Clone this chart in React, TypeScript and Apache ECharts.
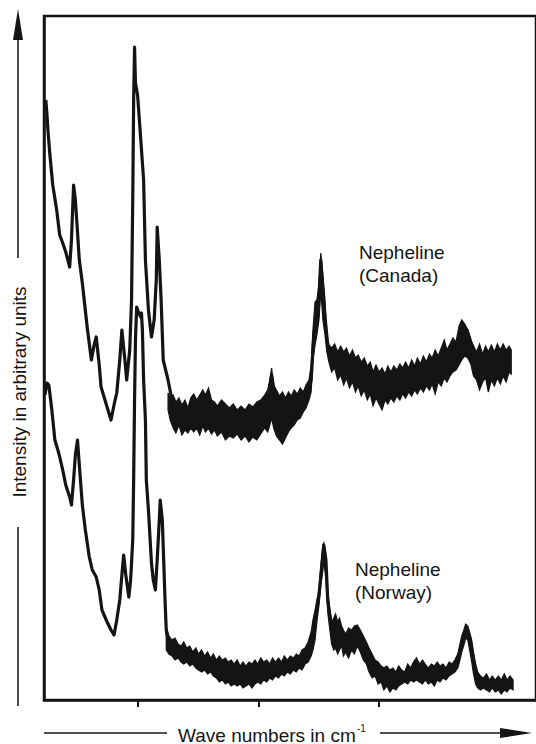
import React, { useEffect, useRef } from "react";
import * as echarts from "echarts";

// Bottom-axis tick positions (cm^-1); the axis itself carries no numbers
const tickWavenumbers = [400, 800, 1200];

// Nepheline (Canada) - trace centre line
const canadaWn = [96,100,103,109,119,132,142,152,162,175,181,188,194,207,217,233,247,256,263,273,279,299,312,322,331,341,348,358,364,374,380,384,387,390,393,400,406,420,426,436,446,455,462,465,472,478,485,501,514,534,567,599,632,664,707,762,805,828,844,860,893,936,964,975,984,998,1007,1017,1030,1047,1089,1132,1178,1242,1308,1373,1416,1448,1471,1491,1507,1536,1569,1601,1634];
const canadaInt = [600,585,570,547,515,490,465,457,448,433,460,515,500,440,417,373,340,355,363,335,313,293,280,295,307,340,370,340,320,350,400,500,600,653,617,605,580,520,440,390,363,380,420,473,440,400,340,320,300,285,282,287,290,282,280,280,282,290,325,295,287,290,305,320,365,385,440,395,355,340,335,325,312,315,322,328,338,345,365,370,355,335,332,338,342];

// Nepheline (Canada) - noise envelope of the baseline: [wavenumber, low, high]
const canadaNoiseBand = [
  [501,290,307],[508,280,302],[518,272,305],[527,267,298],[537,275,302],[547,265,295],[557,270,300],[567,267,292],[576,272,302],[586,268,306],
  [596,272,300],[606,265,305],[616,274,310],[625,268,305],[635,272,312],[645,266,300],[655,270,298],[664,264,294],[678,268,300],[691,260,296],
  [704,264,292],[717,262,296],[730,266,290],[743,260,294],[756,264,290],[769,258,296],[782,263,293],[795,260,298],[808,266,300],[821,272,305],
  [831,268,310],[838,275,320],[844,282,332],[851,272,315],[860,264,310],[870,260,304],[880,256,308],[890,262,302],[900,268,308],[909,272,304],
  [919,275,310],[929,280,306],[939,282,312],[949,288,308],[958,292,315],[968,300,320],[975,308,335],[981,340,370],[988,355,398],[994,365,400],
  [1001,380,415],[1007,410,447],[1014,380,425],[1021,365,400],[1027,348,365],[1034,338,355],[1043,328,352],[1053,332,356],[1063,320,348],[1073,325,354],
  [1083,315,348],[1092,322,352],[1102,312,344],[1112,318,350],[1122,308,342],[1131,314,345],[1141,304,338],[1151,310,342],[1161,300,334],[1171,306,338],
  [1180,294,328],[1190,302,335],[1200,296,328],[1210,290,332],[1220,300,326],[1229,296,334],[1239,302,328],[1249,298,334],[1259,304,330],[1269,300,336],
  [1278,306,332],[1288,302,338],[1298,308,332],[1308,304,340],[1318,310,334],[1327,306,342],[1337,312,336],[1347,308,344],[1357,314,338],[1367,310,346],
  [1376,316,342],[1386,306,350],[1396,318,344],[1406,314,352],[1416,322,360],[1425,318,350],[1435,324,356],[1445,328,362],[1455,330,358],[1465,335,374],
  [1474,340,380],[1484,344,376],[1494,342,370],[1504,336,360],[1513,324,354],[1523,320,348],[1533,310,356],[1543,318,346],[1553,322,354],[1562,308,348],
  [1572,320,355],[1582,314,348],[1592,322,356],[1602,316,350],[1611,324,356],[1621,318,350],[1631,328,354],[1638,326,350],
];

// Nepheline (Norway) - trace centre line
const norwayWn = [93,100,106,116,126,136,142,152,162,175,181,188,194,201,207,217,227,240,250,263,273,282,299,312,322,331,341,348,354,361,371,377,384,387,390,393,397,403,410,413,416,420,426,429,436,446,452,459,465,472,475,482,485,491,495,501,511,534,567,599,642,697,805,916,958,980,984,994,1001,1011,1017,1024,1030,1040,1047,1066,1089,1108,1128,1145,1161,1178,1210,1242,1285,1327,1373,1416,1448,1464,1481,1491,1500,1507,1517,1523,1546,1569,1611,1644];
const norwayInt = [305,317,315,290,260,250,243,230,215,203,195,220,245,260,235,195,170,143,130,123,110,90,78,70,65,80,100,125,145,125,103,120,160,220,300,360,393,388,383,387,370,320,280,220,190,137,120,110,140,180,200,180,153,100,70,60,53,48,43,38,33,27,27,33,43,60,75,90,105,135,155,140,100,78,67,70,57,60,67,57,45,33,25,20,23,33,27,27,32,45,63,70,62,50,33,22,18,17,16,17];

// Nepheline (Norway) - noise envelope of the baseline: [wavenumber, low, high]
const norwayNoiseBand = [
  [495,50,73],[504,46,64],[514,44,60],[524,40,62],[534,42,56],[544,38,54],[553,36,58],[563,38,52],[573,34,54],[583,36,48],
  [593,32,52],[602,30,46],[612,28,50],[622,30,44],[632,26,48],[642,28,42],[651,24,46],[661,22,40],[671,18,44],[681,20,40],
  [691,16,42],[700,18,38],[710,14,40],[720,16,36],[730,14,40],[740,16,34],[749,12,38],[759,14,34],[769,16,38],[779,12,36],
  [789,16,40],[798,18,36],[808,16,42],[818,20,38],[828,18,40],[838,22,36],[847,20,42],[857,24,38],[867,22,42],[877,26,38],
  [886,24,44],[896,28,40],[906,26,44],[916,30,42],[926,28,46],[935,32,44],[945,30,50],[955,36,52],[965,38,58],[975,44,68],
  [981,50,80],[988,60,90],[994,78,100],[1001,95,110],[1007,115,135],[1014,130,155],[1017,140,157],[1024,120,145],[1030,88,110],[1037,70,90],
  [1043,56,78],[1050,50,82],[1056,52,86],[1063,46,78],[1069,50,82],[1076,54,74],[1082,44,70],[1089,48,66],[1099,42,72],[1109,50,70],
  [1118,46,74],[1128,54,75],[1138,48,70],[1148,40,64],[1158,36,58],[1167,28,52],[1177,22,46],[1187,24,40],[1197,16,38],[1207,18,34],
  [1216,10,32],[1226,14,34],[1236,8,30],[1246,12,32],[1256,10,28],[1265,14,34],[1275,16,30],[1285,18,28],[1295,16,36],[1305,20,32],
  [1314,18,38],[1324,20,42],[1334,18,36],[1344,16,40],[1353,20,36],[1363,16,32],[1373,18,36],[1383,14,34],[1393,20,38],[1402,18,34],
  [1412,22,36],[1422,20,32],[1432,24,38],[1442,26,36],[1451,28,40],[1461,32,46],[1468,40,56],[1474,48,64],[1481,55,70],[1487,62,76],
  [1494,60,74],[1500,50,68],[1507,38,60],[1513,26,48],[1520,16,36],[1527,12,28],[1536,10,24],[1546,12,22],[1556,10,26],[1566,8,20],
  [1575,12,24],[1585,8,20],[1595,10,24],[1605,6,20],[1615,10,26],[1624,8,20],[1634,12,24],[1644,10,20],
];

const INK = "#141414";
const FONT = "'Liberation Sans', Arial, Helvetica, sans-serif";

export default function App() {
  const ref = useRef<HTMLDivElement>(null);

  useEffect(() => {
    if (!ref.current) return;
    const chart = echarts.init(ref.current, null, { renderer: "svg" });

    const zip = (xs: number[], ys: number[]) => xs.map((x, i) => [x, ys[i]]);

    const bandSeries = (name: string, data: number[][]) => ({
      type: "custom",
      name,
      data,
      encode: { x: 0, y: [1, 2] },
      clip: true,
      z: 3,
      renderItem: (params: any, api: any) => {
        if (params.dataIndex !== 0) return null;
        const upper = data.map((r) => api.coord([r[0], r[2]]));
        const lower = data.map((r) => api.coord([r[0], r[1]])).reverse();
        return {
          type: "polygon",
          shape: { points: upper.concat(lower) },
          style: { fill: INK, stroke: INK, lineWidth: 1.2, lineJoin: "miter" },
        };
      },
    });

    const lineSeries = (name: string, data: number[][]) => ({
      type: "line",
      name,
      data,
      showSymbol: false,
      symbol: "none",
      clip: true,
      z: 2,
      lineStyle: { color: INK, width: 3.2, join: "round" },
    });

    chart.setOption({
      animation: false,
      backgroundColor: "#ffffff",
      grid: {
        left: 44,
        top: 16,
        width: 499,
        height: 684,
        show: true,
        borderColor: INK,
        borderWidth: 2.5,
        backgroundColor: "transparent",
      },
      xAxis: {
        type: "value",
        min: 90,
        max: 1720,
        axisLine: { show: true, lineStyle: { color: INK, width: 2.5 } },
        axisTick: {
          show: true,
          inside: false,
          length: 7,
          customValues: tickWavenumbers,
          lineStyle: { color: INK, width: 2 },
        },
        axisLabel: { show: false },
        splitLine: { show: false },
      },
      yAxis: {
        type: "value",
        min: 0,
        max: 684,
        axisLine: { show: true, lineStyle: { color: INK, width: 2.5 } },
        axisTick: { show: false },
        axisLabel: { show: false },
        splitLine: { show: false },
      },
      series: [
        lineSeries("Nepheline (Canada)", zip(canadaWn, canadaInt)),
        lineSeries("Nepheline (Norway)", zip(norwayWn, norwayInt)),
        bandSeries("Canada noise", canadaNoiseBand),
        bandSeries("Norway noise", norwayNoiseBand),
      ],
      graphic: [
        // y-axis arrow
        { type: "line", shape: { x1: 18, y1: 36, x2: 18, y2: 258 }, style: { stroke: INK, lineWidth: 1.5 } },
        { type: "polygon", shape: { points: [[18, 9], [13, 40], [23, 40]] }, style: { fill: INK } },
        { type: "line", shape: { x1: 18, y1: 527, x2: 18, y2: 706 }, style: { stroke: INK, lineWidth: 1.5 } },
        {
          type: "text",
          x: 19,
          y: 392,
          rotation: Math.PI / 2,
          style: {
            text: "Intensity in arbitrary units",
            font: `19px ${FONT}`,
            fill: INK,
            align: "center",
            verticalAlign: "middle",
          },
        },
        // x-axis arrow
        { type: "line", shape: { x1: 44, y1: 733, x2: 167, y2: 733 }, style: { stroke: INK, lineWidth: 1.5 } },
        { type: "line", shape: { x1: 380, y1: 733, x2: 505, y2: 733 }, style: { stroke: INK, lineWidth: 1.5 } },
        { type: "polygon", shape: { points: [[532, 733], [500, 728], [500, 738]] }, style: { fill: INK } },
        {
          type: "text",
          x: 178,
          y: 735,
          style: {
            text: "Wave numbers in cm",
            font: `19px ${FONT}`,
            fill: INK,
            align: "left",
            verticalAlign: "middle",
          },
        },
        {
          type: "text",
          x: 357,
          y: 728,
          style: {
            text: "-1",
            font: `10px ${FONT}`,
            fill: INK,
            align: "left",
            verticalAlign: "middle",
          },
        },
        // series labels
        {
          type: "text",
          x: 359,
          y: 241,
          style: {
            text: "Nepheline\n(Canada)",
            font: `19px ${FONT}`,
            lineHeight: 23,
            fill: INK,
            align: "left",
            verticalAlign: "top",
          },
        },
        {
          type: "text",
          x: 355,
          y: 558,
          style: {
            text: "Nepheline\n(Norway)",
            font: `19px ${FONT}`,
            lineHeight: 23,
            fill: INK,
            align: "left",
            verticalAlign: "top",
          },
        },
      ],
    });

    return () => chart.dispose();
  }, []);

  return (
    <div
      ref={ref}
      style={{ position: "absolute", left: 0, top: 0, width: 536, height: 744, background: "#fff" }}
    />
  );
}
